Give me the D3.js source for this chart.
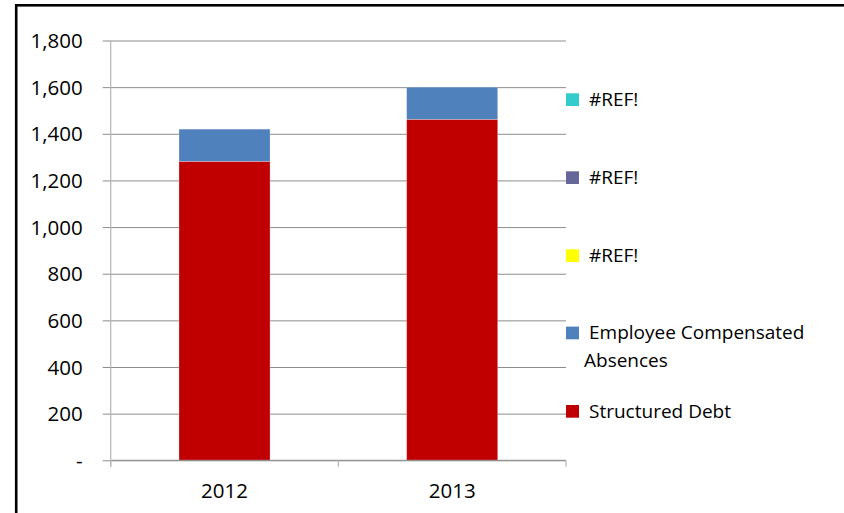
<!DOCTYPE html>
<html><head><meta charset="utf-8">
<script src="https://cdn.jsdelivr.net/npm/d3@7"></script>
<style>html,body{margin:0;padding:0;background:#fff;overflow:hidden}</style>
</head><body>
<svg id="c" width="844" height="513"></svg>
<script>
const categories = ["2012", "2013"];
const structuredDebt = [1282, 1462];
const compensatedAbsences = [138, 138];
const refSeries1 = [0, 0];
const refSeries2 = [0, 0];
const refSeries3 = [0, 0];
const yTicks = [0, 200, 400, 600, 800, 1000, 1200, 1400, 1600, 1800];
const legendLabels = ["#REF!", "#REF!", "#REF!", "Employee Compensated Absences", "Structured Debt"];
const legendColors = ["#33CCCC", "#666699", "#FFFF00", "#4F81BD", "#C00000"];

const svg = d3.select("#c");
const font = "'Open Sans', 'Noto Sans', sans-serif";
const fs = 19;
const afs = 20.5;

// frame
svg.append("rect").attr("x", 16.2).attr("y", 5.3).attr("width", 1000).attr("height", 700)
  .attr("fill", "none").attr("stroke", "#000").attr("stroke-width", 2.6);

const x0 = 110.7, x1 = 566, yTop = 40.5, yBot = 460.3;
const x = d3.scaleBand().domain(categories).range([x0, x1]).paddingInner(0.6).paddingOuter(0.3);
const y = d3.scaleLinear().domain([0, 1800]).range([yBot, yTop]);

// gridlines + y ticks
const yAxis = d3.axisLeft(y).tickValues(yTicks).tickSize(8).tickFormat(d => d === 0 ? "-" : d3.format(",")(d));
const gy = svg.append("g").attr("transform", `translate(${x0},0)`).call(yAxis);
gy.select(".domain").remove();
gy.selectAll(".tick line").attr("stroke", "#8c8c8c").attr("x2", x1 - x0).attr("x1", -8);
gy.selectAll(".tick text").attr("x", -28).attr("dy", "0.35em")
  .attr("font-family", font).attr("font-size", afs).attr("fill", "#000");

// stacked bars
const seriesData = [
  {name: "Structured Debt", values: structuredDebt, color: legendColors[4]},
  {name: "Employee Compensated Absences", values: compensatedAbsences, color: legendColors[3]},
  {name: "#REF!", values: refSeries3, color: legendColors[2]},
  {name: "#REF!", values: refSeries2, color: legendColors[1]},
  {name: "#REF!", values: refSeries1, color: legendColors[0]}
];
const rows = categories.map((c, i) => {
  const r = {cat: c};
  seriesData.forEach((s, k) => r["s" + k] = s.values[i]);
  return r;
});
const stack = d3.stack().keys(seriesData.map((s, k) => "s" + k))(rows);
stack.forEach((layer, k) => {
  svg.append("g").selectAll("rect").data(layer.filter(d => d[1] > d[0])).join("rect")
    .attr("x", d => x(d.data.cat))
    .attr("width", x.bandwidth())
    .attr("y", d => y(d[1]))
    .attr("height", d => y(d[0]) - y(d[1]))
    .attr("fill", seriesData[k].color)
    .attr("stroke", "rgba(255,255,255,0.35)").attr("stroke-width", 0.8);
});

// x axis
svg.append("line").attr("x1", x0).attr("x2", x1).attr("y1", yBot).attr("y2", yBot).attr("stroke", "#8c8c8c");
// y axis line
svg.append("line").attr("x1", x0).attr("x2", x0).attr("y1", yTop).attr("y2", yBot + 6.5).attr("stroke", "#b5b5b5").attr("stroke-width", 1.2);
// x ticks at band edges
const edges = [x0, (x0 + x1) / 2, x1];
svg.append("g").selectAll("line").data(edges).join("line")
  .attr("x1", d => d).attr("x2", d => d).attr("y1", yBot).attr("y2", yBot + 6.5)
  .attr("stroke", "#b5b5b5").attr("stroke-width", 1.2);
svg.append("g").selectAll("text").data(categories).join("text")
  .attr("x", d => x(d) + x.bandwidth() / 2).attr("y", 498)
  .attr("text-anchor", "middle").attr("font-family", font).attr("font-size", afs).attr("fill", "#000")
  .text(d => d);

// legend
const legendY = [106, 184, 262, 339.3, 417.7];
const lg = svg.append("g");
legendLabels.forEach((lab, i) => {
  lg.append("rect").attr("x", 566).attr("y", legendY[i] - 12.7).attr("width", 13).attr("height", 12.7).attr("fill", legendColors[i]);
  if (lab === "Employee Compensated Absences") {
    lg.append("text").attr("x", 589).attr("y", legendY[i]).attr("font-family", font).attr("font-size", fs).attr("fill", "#000").text("Employee Compensated");
    lg.append("text").attr("x", 584).attr("y", legendY[i] + 27.4).attr("font-family", font).attr("font-size", fs).attr("fill", "#000").text("Absences");
  } else {
    lg.append("text").attr("x", 589).attr("y", legendY[i]).attr("font-family", font).attr("font-size", fs).attr("fill", "#000").text(lab);
  }
});
</script>
</body></html>
